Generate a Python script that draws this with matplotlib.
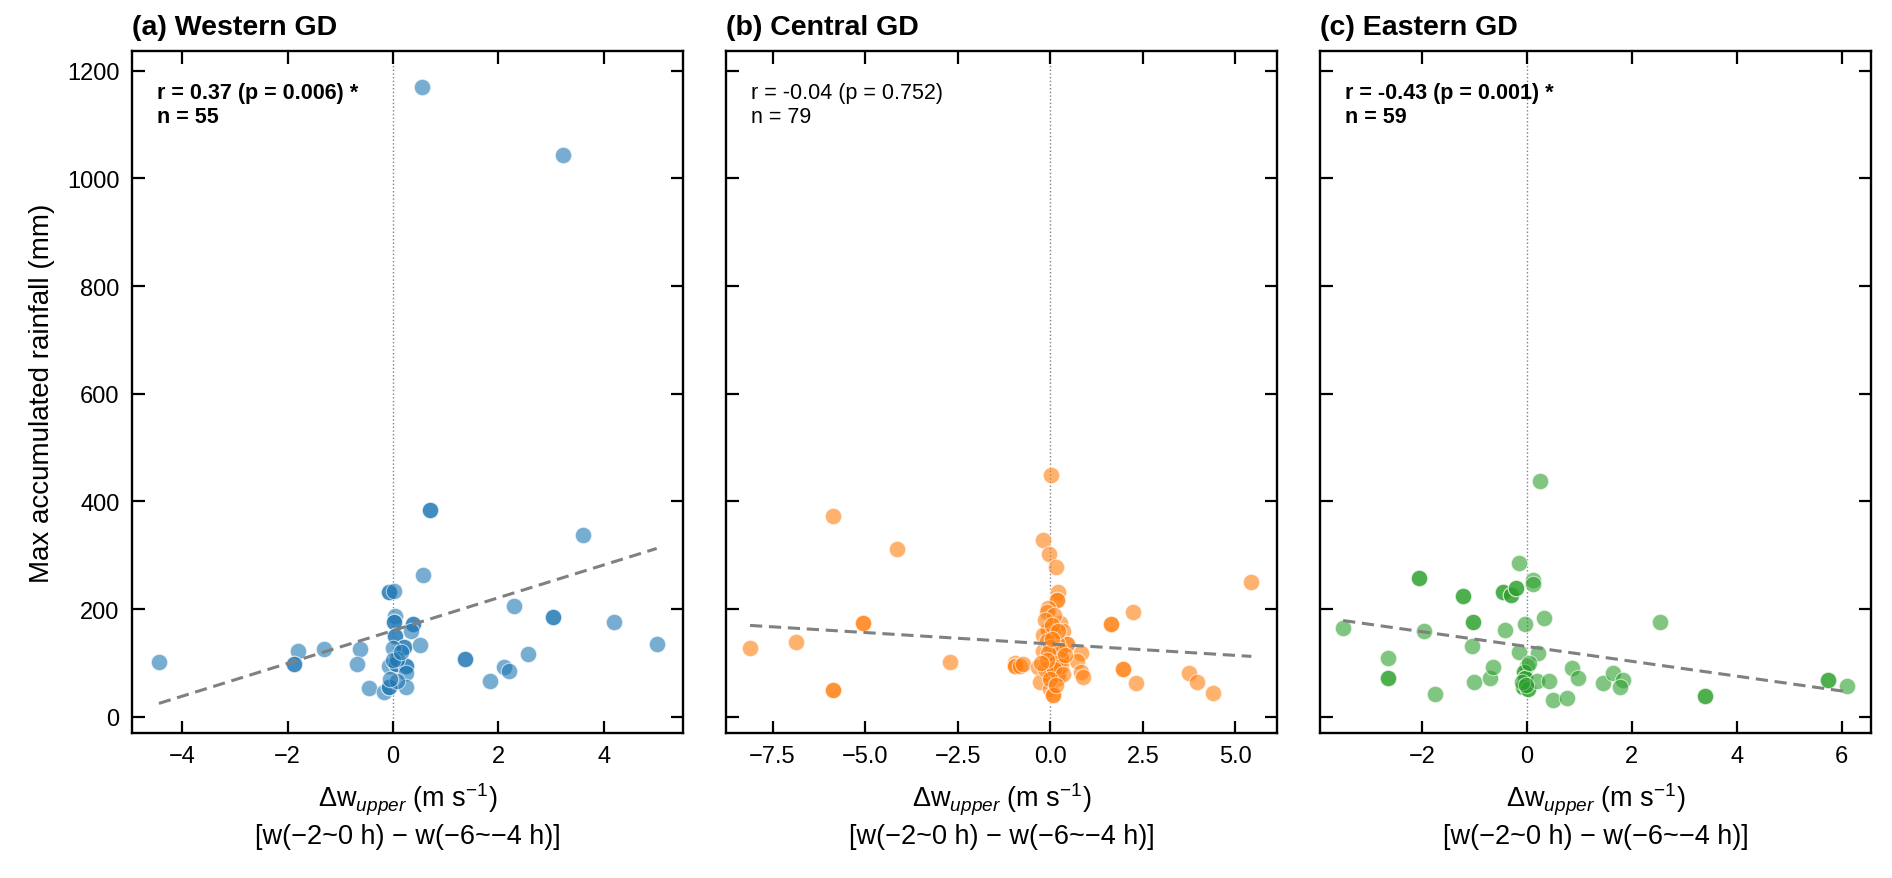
import numpy as np
import matplotlib
matplotlib.use("Agg")
import matplotlib.pyplot as plt

plt.rcParams['font.family'] = ['Liberation Sans', 'DejaVu Sans']
plt.rcParams['mathtext.fontset'] = 'custom'
plt.rcParams['mathtext.rm'] = 'Liberation Sans'
plt.rcParams['mathtext.it'] = 'Liberation Sans:italic'
plt.rcParams['mathtext.bf'] = 'Liberation Sans:bold'

# Data (duplicates = overlapping, darker dots)
west_dw = [-4.44, -1.81, -1.87, -1.87, -1.31, -0.62, -0.69, -0.46, -0.17, -0.08,
           -0.08, -0.08, -0.08, 0.02, 0.04, 0.02, 0.02, 0.38, 0.38, 0.34,
           0.04, 0.04, 0.21, 0.21, -0.01, 0.51, -0.08, 0.05, 0.05, 0.24,
           0.24, 0.24, 0.08, 0.24, 0.08, 0.70, 0.70, 0.57, 1.37, 1.37,
           1.84, 2.11, 2.20, 2.29, 2.56, 3.03, 3.03, 3.60, 4.20, 5.00,
           0.55, 3.22, 0.00, 0.15, -0.05]
west_rain = [101, 123, 98, 98, 126, 126, 98, 54, 46, 56,
             56, 231, 231, 234, 187, 176, 176, 173, 173, 159,
             150, 150, 130, 130, 128, 133, 94, 98, 98, 94,
             94, 82, 107, 56, 67, 384, 384, 264, 108, 108,
             66, 92, 86, 205, 117, 185, 185, 338, 177, 135,
             1170, 1043, 105, 120, 70]

central_dw = [-8.11, -6.87, -5.86, -5.86, -5.06, -5.06, -5.88, -4.15, -2.72, -0.95,
              -0.95, -0.95, -0.82, -0.73, -0.21, -0.03, 0.15, 0.21, 0.19, 0.19,
              -0.06, -0.10, 0.27, -0.06, -0.06, 0.35, 0.08, -0.19, 0.44, 0.44,
              0.17, -0.21, 0.30, 0.30, 0.04, 0.84, 0.71, -0.33, -0.06, -0.02,
              -0.02, 0.20, 0.84, 0.88, -0.28, -0.02, 0.08, 0.08, 1.65, 1.65,
              2.24, 1.97, 1.97, 2.31, 3.75, 3.95, 4.40, 5.43, 0.03, 0.22,
              0.10, -0.15, 0.05, 0.20, -0.10, 0.00, 0.25, -0.05, 0.12, 0.30,
              -0.15, 0.10, 0.35, 0.00, 0.15, -0.10, 0.40, -0.25, 0.05]
central_rain = [128, 139, 49, 49, 175, 175, 373, 311, 102, 100,
                94, 94, 95, 98, 328, 302, 279, 231, 217, 217,
                203, 194, 175, 162, 162, 160, 155, 152, 135, 135,
                137, 123, 107, 107, 112, 118, 104, 92, 83, 78,
                78, 73, 83, 74, 64, 52, 41, 41, 172, 172,
                194, 89, 89, 62, 82, 65, 45, 251, 450, 80,
                190, 180, 170, 160, 140, 130, 125, 118, 100, 95,
                88, 88, 80, 70, 60, 105, 115, 100, 145]

east_dw = [-3.50, -2.65, -2.65, -2.65, -1.95, -1.75, -2.06, -2.06, -1.22, -1.22,
           -1.02, -1.02, -1.05, -1.00, -0.71, -0.65, -0.41, -0.14, 0.25, 0.11,
           0.11, -0.45, -0.45, -0.30, -0.30, -0.20, -0.20, -0.03, 0.32, 2.53,
           -0.14, 0.21, 0.00, -0.05, -0.05, -0.03, -0.03, -0.08, -0.08, 0.03,
           0.03, 0.20, 0.42, 0.50, 0.76, 0.86, 0.98, 1.45, 1.64, 1.84,
           1.78, 3.40, 3.40, 5.75, 5.75, 6.10, -0.10, 0.05, -0.02]
east_rain = [165, 110, 72, 72, 160, 42, 257, 257, 224, 224,
             177, 177, 132, 65, 72, 92, 162, 285, 438, 254,
             246, 231, 231, 226, 226, 240, 240, 173, 183, 177,
             120, 119, 94, 84, 84, 73, 73, 55, 55, 52,
             52, 67, 67, 31, 35, 91, 72, 62, 81, 69,
             55, 38, 38, 68, 68, 57, 65, 100, 60]

titles = ["(a) Western GD", "(b) Central GD", "(c) Eastern GD"]
stats = ["r = 0.37 (p = 0.006) *\nn = 55",
         "r = -0.04 (p = 0.752)\nn = 79",
         "r = -0.43 (p = 0.001) *\nn = 59"]
significant = [True, False, True]
colors = ['#1f77b4', '#ff7f0e', '#2ca02c']
xlims = [(-4.95, 5.5), (-8.76, 6.12), (-3.94, 6.56)]
xticks = [[-4, -2, 0, 2, 4], [-7.5, -5.0, -2.5, 0.0, 2.5, 5.0], [-2, 0, 2, 4, 6]]

xs = [west_dw, central_dw, east_dw]
ys = [west_rain, central_rain, east_rain]

fig = plt.figure(figsize=(18.92, 8.79), dpi=100)
lefts = [0.0698, 0.3837, 0.6977]
axes = []
for i in range(3):
    ax = fig.add_axes([lefts[i], 0.165, 0.2912, 0.776])
    axes.append(ax)
    x = np.array(xs[i])
    y = np.array(ys[i])

    ax.axvline(0, color='gray', linestyle=':', linewidth=1.0, zorder=1)
    ax.scatter(x, y, s=140, color=colors[i], alpha=0.6, edgecolor='white',
               linewidth=0.8, zorder=3)

    k, b = np.polyfit(x, y, 1)
    xx = np.array([x.min(), x.max()])
    ax.plot(xx, k * xx + b, color='gray', linestyle='--', linewidth=2.2,
            dashes=(4, 2.2), zorder=4)

    ax.set_xlim(*xlims[i])
    ax.set_ylim(-30, 1237)
    ax.set_xticks(xticks[i])
    if i == 1:
        ax.set_xticklabels(["\u22127.5", "\u22125.0", "\u22122.5", "0.0", "2.5", "5.0"])
    ax.set_yticks(range(0, 1201, 200))
    if i > 0:
        ax.set_yticklabels([])
    else:
        ax.set_ylabel("Max accumulated rainfall (mm)", fontsize=20, labelpad=9)

    ax.tick_params(direction='in', top=True, right=True, length=9, width=1.6,
                   labelsize=17, pad=9)
    for sp in ax.spines.values():
        sp.set_linewidth(1.7)

    ax.set_xlabel("\u0394w$_{upper}$ (m s$^{-1}$)\n[w(\u22122~0 h) \u2212 w(\u22126~\u22124 h)]",
                  fontsize=19.5, labelpad=10, linespacing=1.3)
    ax.set_title(titles[i], loc='left', fontsize=20.5, fontweight='bold', pad=12)
    ax.text(0.045, 0.955, stats[i], transform=ax.transAxes, va='top', ha='left',
            fontsize=15.5, fontweight='bold' if significant[i] else 'normal',
            linespacing=1.2)

fig.savefig("out.png", dpi=100)
